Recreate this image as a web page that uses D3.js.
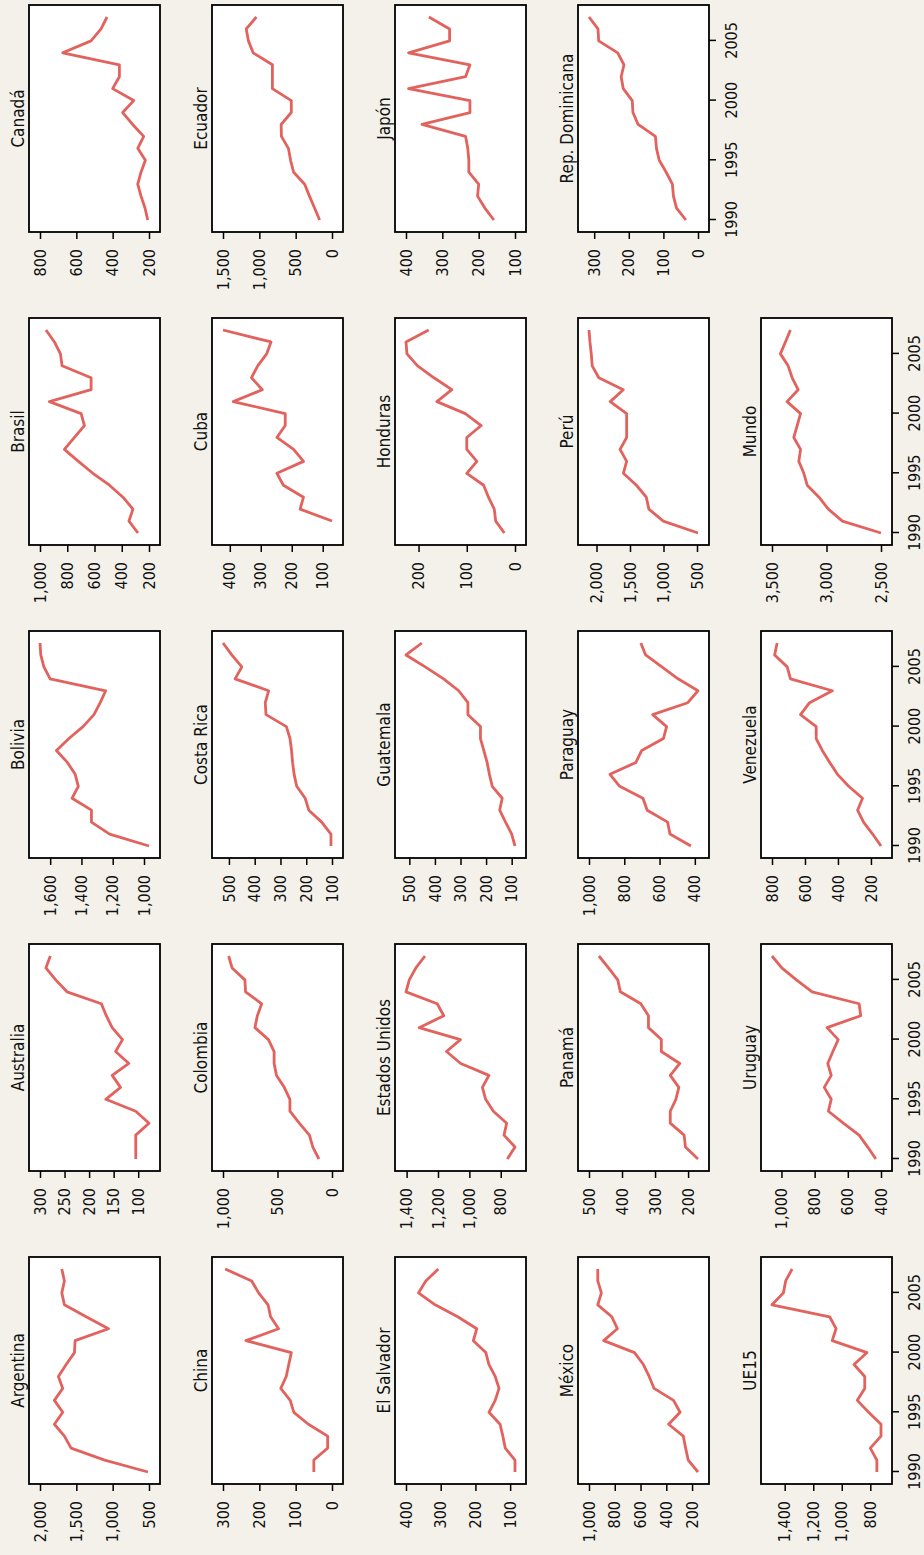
<!DOCTYPE html>
<html>
<head>
<meta charset="utf-8">
<script src="https://cdn.jsdelivr.net/npm/d3@7"></script>
<style>
  body { margin: 0; background: #f4f1ea; }
  text { font-family: "Liberation Sans Narrow", "DejaVu Sans Condensed", "Arial Narrow", sans-serif; }
</style>
</head>
<body>
<script>
// years on the x axis
var years = [1990, 1991, 1992, 1993, 1994, 1995, 1996, 1997, 1998, 1999,
             2000, 2001, 2002, 2003, 2004, 2005, 2006, 2007];
var xTicks = [1990, 1995, 2000, 2005];

var countries = ["Argentina", "Australia", "Bolivia", "Brasil", "Canadá",
                 "China", "Colombia", "Costa Rica", "Cuba", "Ecuador",
                 "El Salvador", "Estados Unidos", "Guatemala", "Honduras", "Japón",
                 "México", "Panamá", "Paraguay", "Perú", "Rep. Dominicana",
                 "UE15", "Uruguay", "Venezuela", "Mundo"];

// one series per country, 1990-2007
var argentina = [514, 1110, 1572, 1664, 1802, 1687, 1802, 1687, 1747, 1640, 1526, 1517, 1057, 1365, 1664, 1700, 1664, 1700];
var australia = [105, 105, 105, 78, 105, 166, 136, 153, 119, 146, 132, 153, 165, 175, 245, 268, 288, 279];
var bolivia = [968, 1220, 1336, 1336, 1460, 1420, 1440, 1490, 1560, 1480, 1390, 1320, 1280, 1245, 1600, 1640, 1660, 1665];
var brasil = [281, 347, 318, 391, 490, 612, 718, 821, 747, 674, 698, 931, 625, 625, 838, 850, 894, 956];
var canada = [207, 222, 244, 262, 244, 220, 262, 229, 290, 345, 284, 400, 363, 363, 675, 519, 464, 431];
var china = [50, 50, 12, 12, 65, 105, 115, 141, 126, 119, 112, 237, 147, 169, 176, 202, 221, 294];
var colombia = [120, 176, 207, 300, 386, 386, 438, 509, 531, 531, 583, 707, 685, 645, 793, 799, 917, 948];
var costaRica = [104, 104, 140, 190, 204, 237, 247, 253, 257, 263, 277, 356, 359, 346, 476, 450, 489, 523];
var cuba = [null, 70, 173, 162, 227, 248, 162, 194, 248, 221, 221, 389, 295, 330, 310, 281, 267, 422];
var ecuador = [170, 240, 310, 376, 528, 570, 600, 696, 700, 560, 560, 820, 820, 820, 1085, 1150, 1180, 1040];
var elSalvador = [86, 86, 114, 121, 129, 161, 143, 132, 143, 161, 170, 206, 196, 251, 316, 364, 343, 307];
var estadosUnidos = [758, 709, 779, 762, 847, 896, 917, 875, 1055, 1146, 1057, 1320, 1163, 1205, 1404, 1383, 1341, 1283];
var guatemala = [87, 100, 124, 147, 137, 176, 187, 196, 209, 222, 222, 271, 271, 307, 366, 438, 513, 451];
var honduras = [22, 40, 43, 55, 65, 100, 79, 100, 100, 70, 103, 162, 131, 168, 202, 224, 226, 179];
var japon = [158, 183, 203, 200, 227, 227, 230, 236, 356, 224, 224, 393, 236, 224, 393, 280, 280, 337];
var mexico = [154, 230, 250, 268, 382, 293, 344, 495, 533, 578, 647, 886, 780, 823, 932, 904, 932, 932];
var panama = [170, 208, 212, 254, 254, 237, 228, 254, 225, 281, 281, 320, 320, 343, 405, 413, 441, 470];
var paraguay = [422, 541, 554, 670, 694, 826, 881, 734, 701, 578, 560, 639, 440, 382, 495, 587, 679, 706];
var peru = [485, 1003, 1218, 1257, 1404, 1599, 1550, 1648, 1550, 1550, 1550, 1795, 1600, 1966, 2064, 2078, 2098, 2112];
var repDominicana = [35, 62, 71, 74, 92, 112, 120, 123, 173, 188, 190, 216, 222, 214, 232, 287, 289, 315];
var ue15 = [754, 754, 800, 725, 725, 812, 891, 839, 839, 914, 823, 1067, 1040, 1085, 1489, 1409, 1393, 1348];
var uruguay = [431, 480, 532, 627, 717, 700, 742, 700, 721, 690, 658, 725, 522, 532, 815, 910, 998, 1057];
var venezuela = [139, 190, 245, 281, 251, 335, 403, 450, 495, 532, 532, 627, 572, 434, 688, 708, 784, 769];
var mundo = [2500, 2854, 2983, 3069, 3177, 3208, 3254, 3238, 3300, 3269, 3238, 3362, 3260, 3315, 3352, 3423, 3377, 3331];

// y tick labels of each panel
var yTicks = [
  [500, 1000, 1500, 2000], [100, 150, 200, 250, 300], [1000, 1200, 1400, 1600],
  [200, 400, 600, 800, 1000], [200, 400, 600, 800],
  [0, 100, 200, 300], [0, 500, 1000], [100, 200, 300, 400, 500],
  [100, 200, 300, 400], [0, 500, 1000, 1500],
  [100, 200, 300, 400], [800, 1000, 1200, 1400], [100, 200, 300, 400, 500],
  [0, 100, 200], [100, 200, 300, 400],
  [200, 400, 600, 800, 1000], [200, 300, 400, 500], [400, 600, 800, 1000],
  [500, 1000, 1500, 2000], [0, 100, 200, 300],
  [800, 1000, 1200, 1400], [400, 600, 800, 1000], [200, 400, 600, 800],
  [2500, 3000, 3500]
];

var series = [argentina, australia, bolivia, brasil, canada,
              china, colombia, costaRica, cuba, ecuador,
              elSalvador, estadosUnidos, guatemala, honduras, japon,
              mexico, panama, paraguay, peru, repDominicana,
              ue15, uruguay, venezuela, mundo];

// the graph is laid out landscape and then turned a quarter to the left
var W = 1555, H = 924;
var pw = 227, ph = 131;
var ncol = 5;

var svg = d3.select("body").append("svg")
    .attr("width", H)
    .attr("height", W);

svg.append("rect").attr("width", H).attr("height", W).attr("fill", "#f4f1ea");

var g = svg.append("g")
    .attr("transform", "translate(0," + W + ") rotate(-90)");

var fmt = d3.format(",");

series.forEach(function (vals, i) {
  var r = Math.floor(i / ncol), c = i % ncol;
  var x0 = 71 + c * 313, y0 = 29 + r * 183;

  var x = d3.scaleLinear().domain([1990, 2007]).range([x0 + 12, x0 + pw - 12]);
  var ext = d3.extent(vals.filter(function (v) { return v != null; }).concat(yTicks[i]));
  var y = d3.scaleLinear().domain(ext).range([y0 + ph - 11, y0 + 11]);

  var p = g.append("g");

  p.append("rect")
    .attr("x", x0).attr("y", y0)
    .attr("width", pw).attr("height", ph)
    .attr("fill", "#fff")
    .attr("stroke", "#000")
    .attr("stroke-width", 1.8);

  var line = d3.line()
    .defined(function (d) { return d != null; })
    .x(function (d, k) { return x(years[k]); })
    .y(function (d) { return y(d); });

  p.append("path")
    .datum(vals)
    .attr("d", line)
    .attr("fill", "none")
    .attr("stroke", "#e2625d")
    .attr("stroke-width", 2.8)
    .attr("stroke-linejoin", "round");

  var ya = p.append("g")
    .attr("transform", "translate(" + x0 + ",0)")
    .call(d3.axisLeft(y).tickValues(yTicks[i]).tickSize(7).tickPadding(10).tickFormat(fmt));
  ya.select(".domain").remove();
  ya.selectAll("line").attr("stroke", "#000").attr("stroke-width", 1.5);
  ya.selectAll("text").attr("font-size", 16).attr("fill", "#111")
    .style("font-family", "'Liberation Sans Narrow', 'DejaVu Sans Condensed', sans-serif");

  // year axis only under the last panel of each column
  if (i + ncol >= series.length) {
    var xa = p.append("g")
      .attr("transform", "translate(0," + (y0 + ph) + ")")
      .call(d3.axisBottom(x).tickValues(xTicks).tickSize(7).tickPadding(9.5).tickFormat(d3.format("d")));
    xa.select(".domain").remove();
    xa.selectAll("line").attr("stroke", "#000").attr("stroke-width", 1.5);
    xa.selectAll("text").attr("font-size", 16).attr("fill", "#111")
      .style("font-family", "'Liberation Sans Narrow', 'DejaVu Sans Condensed', sans-serif");
  }

  p.append("text")
    .attr("x", x0 + pw / 2)
    .attr("y", y0 - 5)
    .attr("text-anchor", "middle")
    .attr("font-size", 17)
    .attr("fill", "#111")
    .text(countries[i]);
});
</script>
</body>
</html>
